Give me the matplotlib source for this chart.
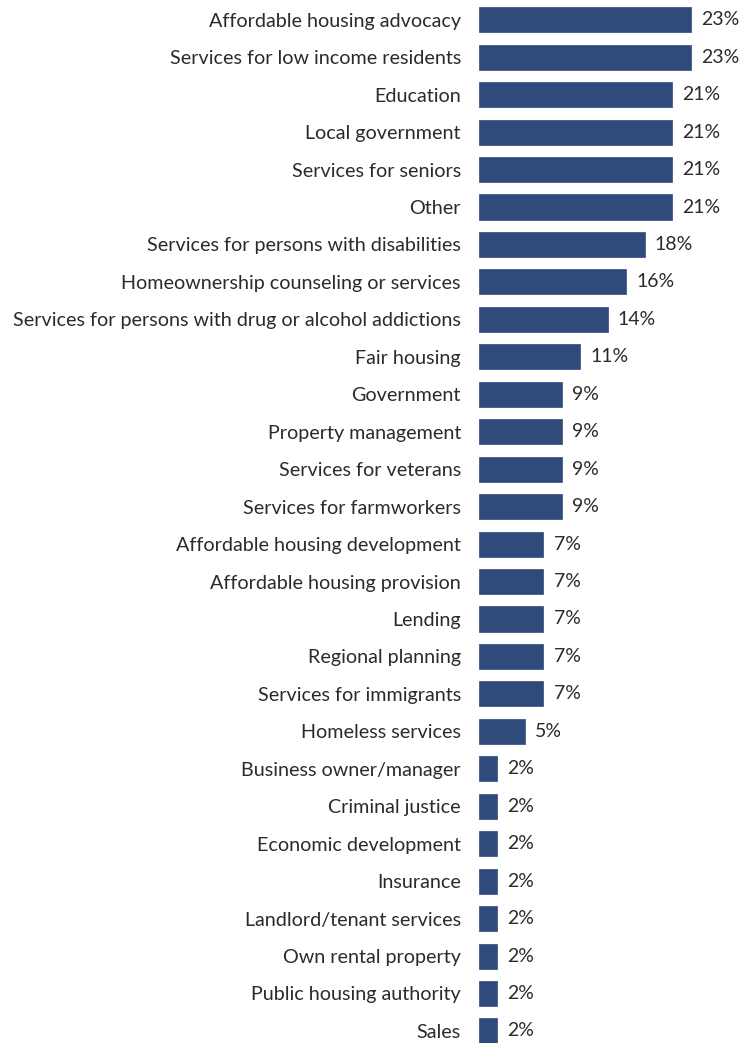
import matplotlib.pyplot as plt

# Roles held by respondents (share of respondents, %)
categories = [
    "Affordable housing advocacy",
    "Services for low income residents",
    "Education",
    "Local government",
    "Services for seniors",
    "Other",
    "Services for persons with disabilities",
    "Homeownership counseling or services",
    "Services for persons with drug or alcohol addictions",
    "Fair housing",
    "Government",
    "Property management",
    "Services for veterans",
    "Services for farmworkers",
    "Affordable housing development",
    "Affordable housing provision",
    "Lending",
    "Regional planning",
    "Services for immigrants",
    "Homeless services",
    "Business owner/manager",
    "Criminal justice",
    "Economic development",
    "Insurance",
    "Landlord/tenant services",
    "Own rental property",
    "Public housing authority",
    "Sales",
]
percents = [23, 23, 21, 21, 21, 21, 18, 16, 14, 11, 9, 9, 9, 9,
            7, 7, 7, 7, 7, 5, 2, 2, 2, 2, 2, 2, 2, 2]

plt.rcParams["font.family"] = ["Lato", "DejaVu Sans"]

figure = plt.figure(figsize=(7.48, 10.43), dpi=100)
ax = figure.add_axes([0.6404, -0.0064, 0.3566, 1.0054])

ypos = list(range(len(categories)))
ax.barh(ypos, percents, height=0.67, color="#2E4B7B", edgecolor="#2E4B7B", linewidth=0.5)

for y, v in zip(ypos, percents):
    ax.text(v + 1.1, y, f"{v}%", va="center", ha="left", fontsize=14, color="#2b2b2b")

ax.set_yticks(ypos)
ax.set_yticklabels(categories, fontsize=14.2, color="#2b2b2b")
ax.tick_params(axis="y", length=0, pad=13)
ax.set_xticks([])
ax.set_xlim(0, 29)
ax.set_ylim(len(categories) - 0.5, -0.5)
for side in ["top", "right", "bottom", "left"]:
    ax.spines[side].set_visible(False)

plt.savefig("out.png", dpi=100)
plt.close(figure)
